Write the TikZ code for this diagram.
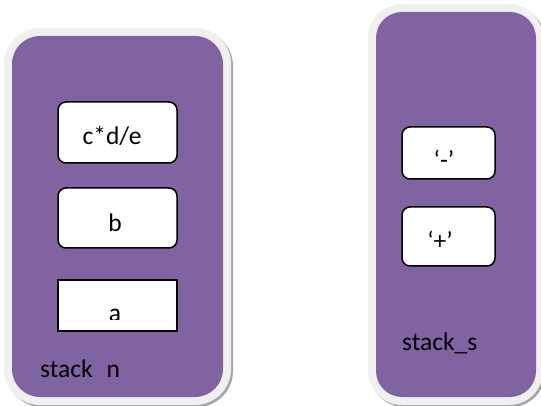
\documentclass[tikz,border=0pt]{standalone}
\usepackage{fontspec}
\setmainfont{Carlito}
\definecolor{stackpurple}{HTML}{8064A2}
\definecolor{rimgray}{HTML}{F0F0F0}
\definecolor{shadowgray}{HTML}{A8A4AE}
\tikzset{
  rim/.style={fill=rimgray, draw=none},
  shade/.style={fill=shadowgray, draw=none},
  body/.style={fill=stackpurple, draw=none},
  cell/.style={draw=black, line width=1.5pt, fill=white, rounded corners=8pt},
  sqcell/.style={draw=black, line width=1.5pt, fill=white},
  lbl/.style={font=\fontsize{25.5}{30}\selectfont, text=black, inner sep=0pt, anchor=base},
}
\begin{document}
\begin{tikzpicture}[x=1pt,y=-1pt]
\useasboundingbox (0,0) rectangle (541,406);
% left stack
\fill[shade, rounded corners=36pt] (6,30) rectangle (233,407);
\fill[rim, rounded corners=36pt] (4,28) rectangle (231,405);
\fill[body, rounded corners=28pt] (12,36) rectangle (223,397);
\draw[cell] (58,102) rectangle (177,163);
\node[lbl] (cde) at (112,145) {c*d/e};
\draw[cell] (58,188) rectangle (177,248);
\node[lbl] (b) at (115,232) {b};
\draw[sqcell] (58,280) rectangle (177,331);
\begin{scope}
\clip (58,280) rectangle (177,319);
\node[lbl] (a) at (115,321) {a};
\end{scope}
\node[lbl, anchor=base west] (sn) at (40,377) {stack\hspace{0.55em}n};
% right stack
\fill[shade, rounded corners=34pt] (370,6) rectangle (545,407);
\fill[rim, rounded corners=34pt] (368,4) rectangle (543,405);
\fill[body, rounded corners=26pt] (376,12) rectangle (536,397);
\draw[cell] (402,127) rectangle (495,179);
\node[lbl] (minus) at (444,169) {‘-’};
\draw[cell] (402,207) rectangle (495,266);
\node[lbl] (plus) at (440,250) {‘+’};
\node[lbl, anchor=base west] (ss) at (402,350) {stack\_s};
\end{tikzpicture}
\end{document}
